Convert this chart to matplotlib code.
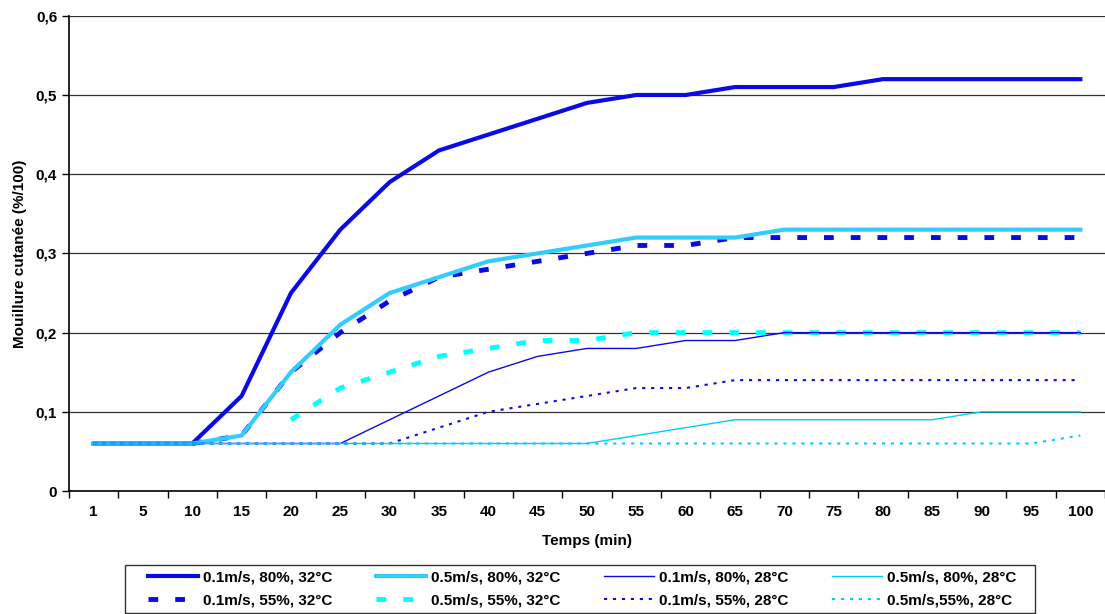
import numpy as np
import matplotlib.pyplot as plt
from matplotlib.patches import Rectangle
from matplotlib.ticker import FuncFormatter, FixedLocator

plt.rcParams['font.family'] = ['Liberation Sans', 'DejaVu Sans']

temps = [1, 5, 10, 15, 20, 25, 30, 35, 40, 45, 50, 55, 60, 65, 70, 75, 80, 85, 90, 95, 100]
nan = np.nan

v01_80_32 = [0.06, 0.06, 0.06, 0.12, 0.25, 0.33, 0.39, 0.43, 0.45, 0.47, 0.49,
             0.50, 0.50, 0.51, 0.51, 0.51, 0.52, 0.52, 0.52, 0.52, 0.52]
v05_80_32 = [0.06, 0.06, 0.06, 0.07, 0.15, 0.21, 0.25, 0.27, 0.29, 0.30, 0.31,
             0.32, 0.32, 0.32, 0.33, 0.33, 0.33, 0.33, 0.33, 0.33, 0.33]
v01_80_28 = [0.06, 0.06, 0.06, 0.06, 0.06, 0.06, 0.09, 0.12, 0.15, 0.17, 0.18,
             0.18, 0.19, 0.19, 0.20, 0.20, 0.20, 0.20, 0.20, 0.20, 0.20]
v05_80_28 = [0.06, 0.06, 0.06, 0.06, 0.06, 0.06, 0.06, 0.06, 0.06, 0.06, 0.06,
             0.07, 0.08, 0.09, 0.09, 0.09, 0.09, 0.09, 0.10, 0.10, 0.10]
v01_55_32 = [nan, nan, 0.06, 0.07, 0.15, 0.20, 0.24, 0.27, 0.28, 0.29, 0.30,
             0.31, 0.31, 0.32, 0.32, 0.32, 0.32, 0.32, 0.32, 0.32, 0.32]
v05_55_32 = [nan, nan, nan, nan, 0.09, 0.13, 0.15, 0.17, 0.18, 0.19, 0.19,
             0.20, 0.20, 0.20, 0.20, 0.20, 0.20, 0.20, 0.20, 0.20, 0.20]
v01_55_28 = [0.06, 0.06, 0.06, 0.06, 0.06, 0.06, 0.06, 0.08, 0.10, 0.11, 0.12,
             0.13, 0.13, 0.14, 0.14, 0.14, 0.14, 0.14, 0.14, 0.14, 0.14]
v05_55_28 = [0.06, 0.06, 0.06, 0.06, 0.06, 0.06, 0.06, 0.06, 0.06, 0.06, 0.06,
             0.06, 0.06, 0.06, 0.06, 0.06, 0.06, 0.06, 0.06, 0.06, 0.07]

x = np.arange(len(temps))
blue = '#0a0ae6'
cyan = '#33ccff'
cyan2 = '#00ffff'
FS = 11
dash = (0, (2, 3.5))
dot = (0, (1.5, 2.8))

fig = plt.figure(figsize=(11.05, 6.14), dpi=100)
ax = fig.add_axes([0.0624, 0.2003, 0.9376, 0.774])

ax.yaxis.grid(True, color='#333333', linewidth=0.9)
ax.set_axisbelow(True)

l1, = ax.plot(x, v01_80_32, color=blue, lw=3, label='0.1m/s, 80%, 32°C')
l5, = ax.plot(x, v01_55_32, color=blue, lw=3.5, ls=dash, label='0.1m/s, 55%, 32°C')
l2, = ax.plot(x, v05_80_32, color=cyan, lw=3, label='0.5m/s, 80%, 32°C')
l6, = ax.plot(x, v05_55_32, color=cyan2, lw=3.5, ls=dash, label='0.5m/s, 55%, 32°C')
l3, = ax.plot(x, v01_80_28, color=blue, lw=1, label='0.1m/s, 80%, 28°C')
l4, = ax.plot(x, v05_80_28, color='#00ccff', lw=1, label='0.5m/s, 80%, 28°C')
l7, = ax.plot(x, v01_55_28, color=blue, lw=1.5, ls=dot, label='0.1m/s, 55%, 28°C')
l8, = ax.plot(x, v05_55_28, color='#00ccff', lw=1.5, ls=dot, label='0.5m/s,55%, 28°C')

ax.set_xlim(-0.5, len(temps) - 0.5)
ax.set_ylim(0, 0.6)
ax.set_xticks(x)
ax.set_xticklabels([str(t) for t in temps])
ax.xaxis.set_minor_locator(FixedLocator(np.arange(-0.5, len(temps), 1)))
ax.tick_params(axis='x', which='major', length=0, pad=10)
ax.tick_params(axis='x', which='minor', length=5, direction='out', width=1)
ax.set_yticks(np.arange(0, 0.61, 0.1))
ax.yaxis.set_major_formatter(FuncFormatter(lambda v, p: '0' if abs(v) < 1e-9 else f'{v:.1f}'.replace('.', ',')))
ax.tick_params(axis='y', length=5, direction='out', width=1)
for lab in ax.get_xticklabels() + ax.get_yticklabels():
    lab.set_fontweight('bold')
    lab.set_fontsize(FS)

for s in ['top', 'right']:
    ax.spines[s].set_visible(False)
ax.spines['left'].set_linewidth(1.2)
ax.spines['bottom'].set_linewidth(1.2)

ax.set_xlabel('Temps (min)', fontweight='bold', fontsize=FS, labelpad=11)
ax.set_ylabel('Mouillure cutanée (%/100)', fontweight='bold', fontsize=FS, labelpad=6)

# legend box (drawn separately to get the wide side margins)
fig.patches.append(Rectangle((0.1131, 0.0016), 0.8235, 0.0782, transform=fig.transFigure,
                             fill=False, edgecolor='#333333', linewidth=1))
handles = [l1, l5, l2, l6, l3, l7, l4, l8]
leg = fig.legend(handles=handles, labels=[h.get_label() for h in handles],
                 ncol=4, loc='center', bbox_to_anchor=(0.5267, 0.0407),
                 frameon=False, prop={'weight': 'bold', 'size': FS}, handlelength=3.3,
                 columnspacing=2.85, handletextpad=0.3, borderpad=0.2, labelspacing=0.6)

fig.savefig('out.png', dpi=100)
